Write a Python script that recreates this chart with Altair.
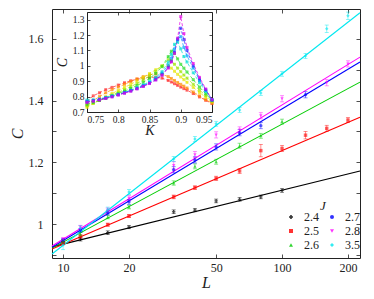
import altair as alt
import pandas as pd

# ---------------- main panel data ----------------
J_order = ["2.4", "2.5", "2.6", "2.7", "2.8", "3.5"]
J_colors = ["#000000", "#ff0000", "#00cc00", "#0000ff", "#ff00ff", "#00e8f0"]
J_shapes = ["cross", "square", "triangle-up", "circle", "triangle-down", "diamond"]

L_24 = [10, 12, 16, 20, 32, 40, 50, 64, 80, 100]
C_24 = [0.942, 0.951, 0.972, 0.990, 1.040, 1.045, 1.075, 1.080, 1.088, 1.109]
E_24 = [0.006, 0.006, 0.006, 0.005, 0.006, 0.005, 0.006, 0.006, 0.006, 0.006]

L_25 = [10, 12, 16, 20, 32, 40, 50, 64, 80, 100, 128, 160, 200]
C_25 = [0.938, 0.960, 0.998, 1.026, 1.088, 1.118, 1.148, 1.172, 1.238, 1.245, 1.288, 1.310, 1.337]
E_25 = [0.005, 0.006, 0.005, 0.005, 0.006, 0.006, 0.007, 0.008, 0.020, 0.010, 0.012, 0.010, 0.008]

L_26 = [10, 12, 16, 20, 32, 40, 50, 64, 80, 100]
C_26 = [0.945, 0.967, 1.023, 1.055, 1.133, 1.187, 1.202, 1.254, 1.286, 1.332]
E_26 = [0.005, 0.006, 0.006, 0.006, 0.007, 0.008, 0.008, 0.008, 0.008, 0.008]

L_27 = [10, 12, 16, 20, 32, 40, 50, 64, 80, 128]
C_27 = [0.948, 0.980, 1.036, 1.072, 1.176, 1.208, 1.250, 1.296, 1.319, 1.419]
E_27 = [0.005, 0.006, 0.007, 0.008, 0.010, 0.010, 0.010, 0.010, 0.010, 0.010]

L_28 = [10, 12, 16, 20, 32, 40, 50, 64, 80, 100, 160, 200]
C_28 = [0.951, 0.990, 1.045, 1.084, 1.190, 1.225, 1.289, 1.305, 1.351, 1.406, 1.458, 1.519]
E_28 = [0.005, 0.006, 0.007, 0.008, 0.012, 0.010, 0.010, 0.010, 0.010, 0.010, 0.010, 0.010]

L_35 = [10, 12, 16, 20, 32, 40, 50, 64, 80, 100, 128, 160, 200]
C_35 = [0.932, 0.987, 1.047, 1.104, 1.211, 1.276, 1.325, 1.370, 1.425, 1.487, 1.545, 1.633, 1.675]
E_35 = [0.015, 0.008, 0.008, 0.008, 0.008, 0.008, 0.008, 0.008, 0.008, 0.008, 0.008, 0.012, 0.012]

# fitted lines: values read at the two ends of the L axis
fit_L = [8.9, 227]
fit_start = {"2.4": 0.926, "2.5": 0.919, "2.6": 0.922, "2.7": 0.925, "2.8": 0.929, "3.5": 0.903}
fit_end = {"2.4": 1.172, "2.5": 1.346, "2.6": 1.460, "2.7": 1.525, "2.8": 1.541, "3.5": 1.685}

series = {
    "2.4": (L_24, C_24, E_24), "2.5": (L_25, C_25, E_25), "2.6": (L_26, C_26, E_26),
    "2.7": (L_27, C_27, E_27), "2.8": (L_28, C_28, E_28), "3.5": (L_35, C_35, E_35),
}
rows = []
for j, (Ls, Cs, Es) in series.items():
    for l, c, e in zip(Ls, Cs, Es):
        rows.append({"J": j, "L": l, "C": c, "lo": c - e, "hi": c + e})
pts_df = pd.DataFrame(rows)

line_rows = []
for j in fit_start:
    line_rows.append({"J": j, "L": fit_L[0], "C": fit_start[j]})
    line_rows.append({"J": j, "L": fit_L[1], "C": fit_end[j]})
lines_df = pd.DataFrame(line_rows)

# ---------------- inset data ----------------
K_vals = [0.75, 0.76, 0.77, 0.78, 0.79, 0.80, 0.81, 0.82, 0.83, 0.84, 0.85, 0.86, 0.87,
          0.88, 0.885, 0.89, 0.895, 0.90, 0.905, 0.91, 0.92, 0.93, 0.94, 0.95]
inset_names = ["c1", "c2", "c3", "c4", "c5", "c6", "c7", "c8", "c9"]
inset_colors = ["#ff2a2a", "#ff8c00", "#e6e600", "#9be600", "#22dd22", "#00e0d0", "#00a0ff", "#2a2aff", "#e600e6"]
inset_C = [
    [0.770, 0.805, 0.825, 0.845, 0.860, 0.875, 0.890, 0.903, 0.913, 0.920, 0.925, 0.926, 0.920,
     0.905, 0.895, 0.884, 0.873, 0.862, 0.852, 0.842, 0.820, 0.798, 0.776, 0.755],
    [0.745, 0.775, 0.800, 0.825, 0.845, 0.862, 0.880, 0.898, 0.915, 0.930, 0.942, 0.948, 0.945,
     0.930, 0.918, 0.905, 0.892, 0.880, 0.868, 0.856, 0.830, 0.805, 0.780, 0.758],
    [0.730, 0.755, 0.778, 0.800, 0.820, 0.840, 0.860, 0.880, 0.902, 0.925, 0.950, 0.975, 0.998,
     1.000, 0.985, 0.965, 0.945, 0.928, 0.910, 0.893, 0.860, 0.827, 0.795, 0.765],
    [0.740, 0.758, 0.775, 0.792, 0.810, 0.828, 0.845, 0.865, 0.885, 0.908, 0.935, 0.965, 1.000,
     1.040, 1.035, 1.010, 0.985, 0.962, 0.940, 0.920, 0.880, 0.843, 0.806, 0.770],
    [0.750, 0.762, 0.775, 0.790, 0.805, 0.820, 0.836, 0.853, 0.872, 0.893, 0.918, 0.950, 0.995,
     1.060, 1.095, 1.080, 1.045, 1.010, 0.985, 0.960, 0.910, 0.862, 0.818, 0.775],
    [0.778, 0.780, 0.785, 0.795, 0.805, 0.815, 0.828, 0.842, 0.858, 0.876, 0.898, 0.925, 0.962,
     1.025, 1.075, 1.140, 1.155, 1.110, 1.060, 1.025, 0.955, 0.890, 0.833, 0.780],
    [0.770, 0.775, 0.782, 0.792, 0.803, 0.814, 0.826, 0.840, 0.855, 0.872, 0.892, 0.918, 0.952,
     1.005, 1.050, 1.110, 1.175, 1.190, 1.120, 1.065, 0.985, 0.905, 0.840, 0.778],
    [0.765, 0.772, 0.780, 0.790, 0.800, 0.812, 0.824, 0.837, 0.852, 0.868, 0.887, 0.910, 0.942,
     0.990, 1.030, 1.090, 1.170, 1.245, 1.170, 1.100, 1.000, 0.915, 0.845, 0.778],
    [0.762, 0.770, 0.778, 0.788, 0.798, 0.810, 0.822, 0.835, 0.850, 0.866, 0.885, 0.908, 0.938,
     0.985, 1.025, 1.080, 1.180, 1.320, 1.210, 1.120, 1.015, 0.925, 0.850, 0.780],
]
irows = []
for name, vals in zip(inset_names, inset_C):
    for k, c in zip(K_vals, vals):
        irows.append({"curve": name, "K": k, "C": c})
inset_df = pd.DataFrame(irows)

# ---------------- layout constants ----------------
W, H = 308, 249
FONT = "Liberation Serif"
x_ticks = [10, 20, 50, 100, 200]
y_ticks_all = [0.9, 1.0, 1.1, 1.2, 1.3, 1.4, 1.5, 1.6, 1.7]
y_ticks_lab = [1.0, 1.2, 1.4, 1.6]
ik_ticks = [0.75, 0.8, 0.85, 0.9, 0.95]
ic_ticks = [0.7, 0.8, 0.9, 1.0, 1.1, 1.2, 1.3]
IX0, IX1, IY0, IY1 = 35, 160, 103, 3   # inset pixel box inside plot area

xs = alt.Scale(type="log", domain=[8.9, 227], nice=False)
ys = alt.Scale(domain=[0.89, 1.697], nice=False, zero=False)
cs = alt.Scale(domain=J_order, range=J_colors)
ss = alt.Scale(domain=J_order, range=J_shapes)
ixs = alt.Scale(domain=[0.75, 0.95], range=[IX0, IX1], nice=False)
iys = alt.Scale(domain=[0.7, 1.35], range=[IY0, IY1], nice=False, zero=False)


def tick_axis(orient, offset, values, size=4, domain=False):
    return alt.Axis(orient=orient, offset=offset, values=values, labels=False, title=None,
                    grid=False, domain=domain, domainColor="#222", ticks=True,
                    tickSize=size, tickColor="#222", tickWidth=0.8)


# main: fitted lines with labelled axes
lines = alt.Chart(lines_df).mark_line(strokeWidth=1.1).encode(
    x=alt.X("L:Q", scale=xs, axis=alt.Axis(
        orient="bottom", values=x_ticks, format="d", ticks=False, domain=False, grid=False,
        labelFont=FONT, labelFontSize=12, labelColor="#222", labelPadding=4,
        title="L", titleFont=FONT, titleFontStyle="italic", titleFontWeight="normal",
        titleFontSize=16, titlePadding=1, titleColor="#222")),
    y=alt.Y("C:Q", scale=ys, axis=alt.Axis(
        orient="left", values=y_ticks_lab, format=".1~f", ticks=False, domain=False, grid=False,
        labelFont=FONT, labelFontSize=12, labelColor="#222", labelPadding=9,
        title="C", titleFont=FONT, titleFontStyle="italic", titleFontWeight="normal",
        titleFontSize=16, titlePadding=3, titleColor="#222")),
    color=alt.Color("J:N", scale=cs, legend=None),
    detail="J:N",
)

# error bars
err_rule = alt.Chart(pts_df).mark_rule(strokeWidth=0.8, opacity=0.55).encode(
    x=alt.X("L:Q", scale=xs, axis=tick_axis("bottom", -H, x_ticks)),
    y=alt.Y("lo:Q", scale=ys, axis=tick_axis("left", -W, y_ticks_all)),
    y2="hi:Q",
    color=alt.Color("J:N", scale=cs, legend=None),
)
err_caps = alt.Chart(pts_df).transform_fold(["lo", "hi"], as_=["end", "Cv"]).mark_tick(
    orient="horizontal", size=4, thickness=0.8, opacity=0.55).encode(
    x=alt.X("L:Q", scale=xs, axis=None),
    y=alt.Y("Cv:Q", scale=ys, axis=None),
    color=alt.Color("J:N", scale=cs, legend=None),
)

leg = alt.Legend(title="J", orient="none", legendX=233, legendY=191, columns=2,
                 titleFont=FONT, titleFontStyle="italic", titleFontWeight="normal",
                 titleFontSize=13, titleAnchor="middle", titleColor="#222", titlePadding=-2,
                 labelFont=FONT, labelFontSize=12, labelColor="#222", labelOffset=7,
                 symbolSize=16, symbolOpacity=0.8, symbolStrokeWidth=1,
                 columnPadding=7, rowPadding=2, padding=0)

points = alt.Chart(pts_df).mark_point(filled=True, size=12, opacity=0.6).encode(
    x=alt.X("L:Q", scale=xs, axis=tick_axis("top", -H, x_ticks)),
    y=alt.Y("C:Q", scale=ys, axis=tick_axis("right", -W, y_ticks_all)),
    color=alt.Color("J:N", scale=cs, legend=leg),
    shape=alt.Shape("J:N", scale=ss, legend=leg),
)

# inset
ics = alt.Scale(domain=inset_names, range=inset_colors)
ilines = alt.Chart(inset_df).mark_line(strokeWidth=0.9, strokeDash=[3, 2], opacity=0.8).encode(
    x=alt.X("K:Q", scale=ixs, axis=alt.Axis(
        orient="bottom", offset=-(H - IY0), values=ik_ticks, format=".2~f", ticks=False,
        domain=True, domainColor="#222", grid=False,
        labelFont=FONT, labelFontSize=9.5, labelColor="#222", labelPadding=2,
        title="K", titleFont=FONT, titleFontStyle="italic", titleFontWeight="normal",
        titleFontSize=14, titlePadding=0, titleColor="#222")),
    y=alt.Y("C:Q", scale=iys, axis=alt.Axis(
        orient="left", offset=-IX0, values=ic_ticks, format=".1~f", ticks=False,
        domain=True, domainColor="#222", grid=False,
        labelFont=FONT, labelFontSize=9.5, labelColor="#222", labelPadding=3,
        title="C", titleFont=FONT, titleFontStyle="italic", titleFontWeight="normal",
        titleFontSize=14, titlePadding=3, titleColor="#222")),
    color=alt.Color("curve:N", scale=ics, legend=None),
    detail="curve:N",
)
ipoints = alt.Chart(inset_df).mark_square(size=9, opacity=0.7).encode(
    x=alt.X("K:Q", scale=ixs, axis=tick_axis("top", -IY0, ik_ticks, 3)),
    y=alt.Y("C:Q", scale=iys, axis=tick_axis("right", -(W - IX0), ic_ticks, 3)),
    color=alt.Color("curve:N", scale=ics, legend=None),
)
iframe = alt.Chart(inset_df).mark_point(opacity=0).encode(
    x=alt.X("K:Q", scale=ixs, axis=tick_axis("bottom", -(H - IY1), ik_ticks, 3, True)),
    y=alt.Y("C:Q", scale=iys, axis=tick_axis("left", -IX1, ic_ticks, 3, True)),
)

chart = alt.layer(lines, err_rule, err_caps, points, ilines, ipoints, iframe).resolve_scale(
    x="independent", y="independent", color="independent", shape="independent"
).resolve_axis(x="independent", y="independent").properties(
    width=W, height=H,
    padding={"left": 44, "top": 1, "right": 6, "bottom": 33},
    autosize=alt.AutoSizeParams(type="none"),
).configure_view(stroke="#222", strokeWidth=1)

chart.save("out.html", embed_options={"renderer": "svg", "actions": False})
